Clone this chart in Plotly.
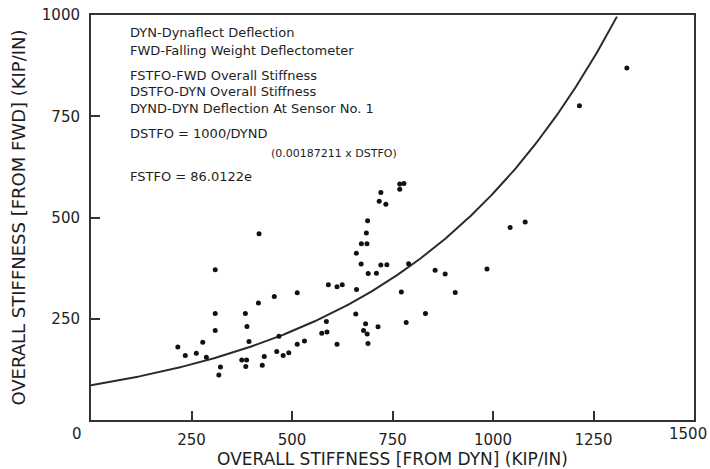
import numpy as np
import plotly.graph_objects as go

# Overall stiffness pairs: Dynaflect-derived (x) vs FWD-derived (y), kip/in
dyn_stiffness = [
    216, 234.5, 262, 278, 287, 309, 309, 309, 322, 318,
    384, 388, 393, 375, 387, 385, 416.5, 418, 426, 431,
    456, 462, 467.5, 478, 492, 513, 513, 531, 574, 587,
    585.5, 590.5, 612, 625, 612, 658.5, 660.5, 660, 672.5, 686.5,
    685, 688, 672, 689.5, 710, 721, 736, 683, 678, 687,
    689, 714, 721, 717, 733.5, 768, 778.5, 768, 772, 784,
    790, 832, 856, 881, 906, 985, 1042.5, 1080, 1215, 1333,
]
fwd_stiffness = [
    180, 159, 165, 192, 155, 371, 263, 221, 131, 111,
    263, 231, 194, 148, 148, 132, 289, 460, 135, 157,
    305, 169, 207, 159, 166, 314, 187, 195, 214, 217,
    243, 334, 329, 334, 187, 262, 322, 412, 435, 435,
    462, 492, 385, 362, 362.5, 383, 383.5, 237.5, 221, 212.5,
    189, 230, 562, 540, 533, 583, 584, 570, 316, 241,
    386, 263, 370, 360.5, 315, 373, 475.5, 489, 776, 869,
]

# Regression: FSTFO = 86.0122 * exp(0.00187211 * DSTFO)
fit_a = 86.0122
fit_b = 0.00187211
x_fit = np.linspace(0, 1500, 400)
y_fit = fit_a * np.exp(fit_b * x_fit)
y_fit = np.where(y_fit <= 1000, y_fit, np.nan)

x_ticks = [250, 500, 750, 1000, 1250, 1500]
x_tick_text = ["250", "500", "750", "1000", "1250", ""]  # 1500 placed separately at the edge
y_ticks = [250, 500, 750, 1000]

ink = "#1e1e1e"
font_family = "DejaVu Sans"

fig = go.Figure()
fig.add_trace(go.Scatter(
    x=x_fit, y=y_fit, mode="lines",
    line=dict(color="#2a2a2a", width=2),
    hoverinfo="skip", showlegend=False,
))
fig.add_trace(go.Scatter(
    x=dyn_stiffness, y=fwd_stiffness, mode="markers",
    marker=dict(color="#111111", size=5),
    showlegend=False,
))

notes = [
    ("DYN-Dynaflect Deflection", 958),
    ("FWD-Falling Weight Deflectometer", 913),
    ("FSTFO-FWD Overall Stiffness", 850),
    ("DSTFO-DYN Overall Stiffness", 811),
    ("DYND-DYN Deflection At Sensor No. 1", 769),
    ("DSTFO = 1000/DYND", 707),
    ("FSTFO = 86.0122e", 601),
]
for text, yv in notes:
    fig.add_annotation(x=93, y=yv, xref="x", yref="y", text=text,
                       showarrow=False, xanchor="left", yanchor="middle",
                       font=dict(family=font_family, size=13, color=ink))
fig.add_annotation(x=442, y=657, xref="x", yref="y",
                   text="(0.00187211 x DSTFO)", showarrow=False,
                   xanchor="left", yanchor="middle",
                   font=dict(family=font_family, size=11, color=ink))
# shared origin label below the corner
fig.add_annotation(x=-0.023, y=-0.035, xref="paper", yref="paper", text="0",
                   showarrow=False, xanchor="center", yanchor="middle",
                   font=dict(family=font_family, size=15, color=ink))
# last x tick label, kept inside the page
fig.add_annotation(x=1.0245, y=-0.035, xref="paper", yref="paper", text="1500",
                   showarrow=False, xanchor="right", yanchor="middle",
                   font=dict(family=font_family, size=15, color=ink))

axis_common = dict(
    showgrid=False, zeroline=False, showline=True, mirror=True,
    linecolor="#333333", linewidth=2,
    ticks="inside", ticklen=9, tickwidth=2, tickcolor="#333333",
    tickfont=dict(family=font_family, size=15, color=ink),
    ticklabeloverflow="allow", automargin=False,
)

fig.update_layout(
    width=710, height=469,
    margin=dict(l=91, r=16, t=15, b=49),
    paper_bgcolor="white", plot_bgcolor="white",
    xaxis=dict(range=[0, 1500], tickvals=x_ticks, ticktext=x_tick_text,
               title=dict(text="OVERALL STIFFNESS [FROM DYN] (KIP/IN)",
                          font=dict(family=font_family, size=17, color=ink),
                          standoff=16),
               ticklabelstandoff=5,
               **axis_common),
    yaxis=dict(range=[0, 1000], tickvals=y_ticks,
               ticktext=[str(v) for v in y_ticks],
               title=dict(text="OVERALL STIFFNESS [FROM FWD] (KIP/IN)",
                          font=dict(family=font_family, size=18, color=ink),
                          standoff=12),
               ticklabelstandoff=6,
               **axis_common),
)

fig.write_html("out.html")
